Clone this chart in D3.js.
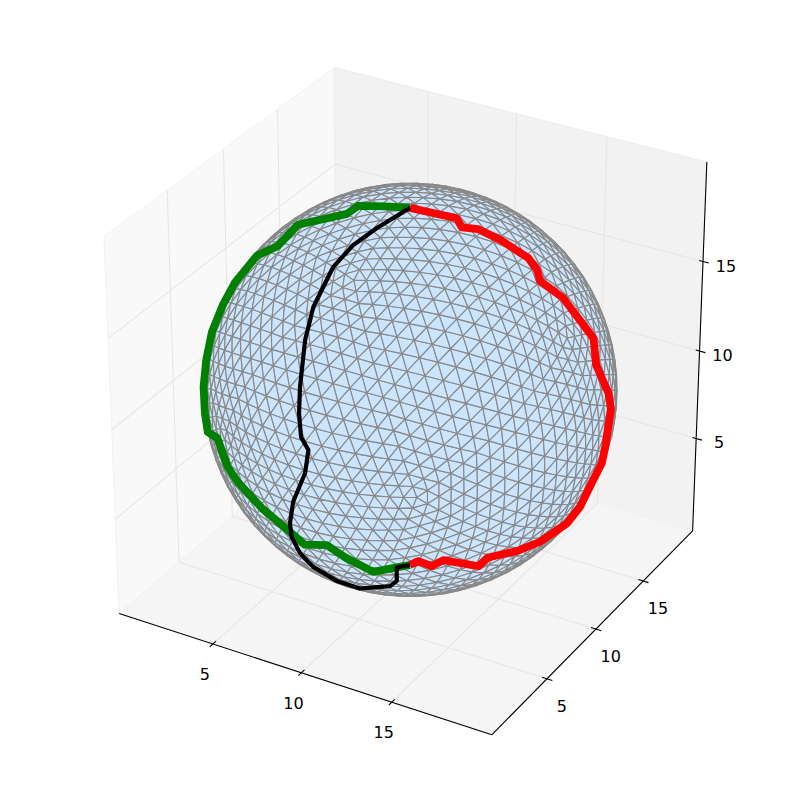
<!DOCTYPE html>
<html>
<head>
<meta charset="utf-8">
<script src="https://cdn.jsdelivr.net/npm/d3@7"></script>
<style>html,body{margin:0;padding:0;background:#fff}svg{display:block}</style>
</head>
<body>
<svg id="chart" width="800" height="800"></svg>
<script>
// ---- data (axis units) ----
const axisLimits = [-0.4167, 20.4167];
const xTicks = [5, 10, 15];
const yTicks = [5, 10, 15];
const zTicks = [5, 10, 15];
const sphereCenter = [10, 10, 10];
const sphereRadius = 10;

const greenPath = [
 [10.05,9.88,20.0],[8.88,9.54,19.93],[7.49,9.39,19.66],[7.33,8.62,19.54],[4.70,8.45,18.34],
 [4.42,7.07,17.76],[2.97,7.47,16.65],[2.09,6.83,15.24],[1.79,6.19,14.25],[1.33,5.87,12.78],
 [1.32,5.31,11.48],[1.58,4.62,10.42],[1.94,4.12,9.32],[2.30,3.78,8.53],[3.99,2.01,9.60],
 [4.81,1.59,8.45],[5.58,1.25,8.03],[7.20,0.78,7.32],[8.79,0.71,6.52],[9.51,0.86,5.96],
 [10.82,0.69,6.44],[11.60,1.06,5.81],[12.70,1.82,4.92],[13.89,1.98,5.46],[14.49,2.19,5.67]
];
const redPath = [
 [10.05,9.88,20.0],[12.23,10.51,19.73],[12.79,10.02,19.61],[13.35,10.60,19.40],[14.36,10.91,18.96],
 [15.66,11.33,18.14],[16.23,11.16,17.74],[16.62,10.73,17.46],[17.51,11.43,16.44],[18.78,12.17,14.27],
 [19.32,11.46,13.32],[19.64,12.20,11.49],[19.70,12.38,10.53],[19.77,11.74,8.78],[19.59,11.79,7.81],
 [19.57,10.88,7.24],[18.99,10.78,5.70],[18.74,9.92,5.14],[18.47,7.72,5.21],[18.01,6.25,5.34],
 [17.27,4.76,5.56],[16.81,4.66,4.98],[15.85,2.98,5.94],[15.32,2.81,5.53],[14.90,2.27,5.97],[14.49,2.19,5.67]
];
const blackPath = [
 [10.05,9.88,20.0],[9.47,7.75,19.73],[8.96,6.47,19.30],[8.63,5.18,18.65],[8.61,3.39,17.37],
 [8.83,2.25,16.21],[9.25,1.06,14.42],[9.47,0.58,13.31],[9.76,0.26,12.25],[10.21,0.16,11.75],
 [10.10,0.02,10.54],[9.37,0.10,8.70],[8.95,0.46,7.20],[8.80,0.83,6.19],[8.88,1.43,4.98],
 [9.22,2.07,3.96],[10.06,2.92,2.94],[11.06,3.34,2.62],[12.97,2.92,3.60],[13.50,2.65,4.20],
 [13.89,1.98,5.46],[14.49,2.19,5.67]
];

// ---- view (elevation 30, azimuth -60, camera distance 10) ----
const elev = 30 * Math.PI / 180, azim = -60 * Math.PI / 180, camDist = 10;
const n = [Math.cos(elev)*Math.cos(azim), Math.cos(elev)*Math.sin(azim), Math.sin(elev)];
const uLen = Math.hypot(n[0], n[1]);
const u = [-n[1]/uLen, n[0]/uLen, 0];
const v = [n[1]*u[2]-n[2]*u[1], n[2]*u[0]-n[0]*u[2], n[0]*u[1]-n[1]*u[0]];
const dot = (a,b) => a[0]*b[0]+a[1]*b[1]+a[2]*b[2];

const toBox = d3.scaleLinear().domain(axisLimits).range([-0.5, 0.5]);
const screenX = d3.scaleLinear().domain([0, 0.1]).range([410.3, 410.3 + 430.2]);
const screenY = d3.scaleLinear().domain([0, 0.1]).range([389.8, 389.8 - 430.2]);

function project(p) {
  const q = [toBox(p[0]), toBox(p[1]), toBox(p[2])];
  const w = camDist - dot(n, q);
  return [screenX(dot(u, q)/w), screenY(dot(v, q)/w)];
}
const path3d = d3.line().x(d => project(d)[0]).y(d => project(d)[1]);

const svg = d3.select("#chart");
const [lo, hi] = axisLimits;

// ---- panes ----
const panes = [
  {c:"#f9f9f9", pts:[[lo,lo,lo],[lo,hi,lo],[lo,hi,hi],[lo,lo,hi]]},
  {c:"#f2f2f2", pts:[[lo,hi,lo],[hi,hi,lo],[hi,hi,hi],[lo,hi,hi]]},
  {c:"#f5f5f5", pts:[[lo,lo,lo],[hi,lo,lo],[hi,hi,lo],[lo,hi,lo]]}
];
svg.append("g").selectAll("path").data(panes).join("path")
  .attr("d", d => path3d(d.pts) + "Z")
  .attr("fill", d => d.c)
  .attr("stroke", d => d.c === "#f2f2f2" ? "#ececec" : "#f1f1f1")
  .attr("stroke-width", 1);

// ---- grid ----
const gridLines = [];
xTicks.forEach(t => gridLines.push([[t,lo,lo],[t,hi,lo],[t,hi,hi]]));
yTicks.forEach(t => gridLines.push([[lo,t,hi],[lo,t,lo],[hi,t,lo]]));
zTicks.forEach(t => gridLines.push([[lo,lo,t],[lo,hi,t],[hi,hi,t]]));
svg.append("g").selectAll("path").data(gridLines).join("path")
  .attr("d", path3d).attr("fill","none").attr("stroke","#e6e6e6").attr("stroke-width",1.1);

// ---- axes ----
const axisLines = [
  [[lo,lo,lo],[hi,lo,lo]],
  [[hi,lo,lo],[hi,hi,lo]],
  [[hi,hi,lo],[hi,hi,hi]]
];
svg.append("g").selectAll("path").data(axisLines).join("path")
  .attr("d", path3d).attr("fill","none").attr("stroke","#000").attr("stroke-width",1.1);

const tickMarks = [];
xTicks.forEach(t => tickMarks.push({seg:[[t,lo+0.28,lo],[t,lo-0.28,lo]], t, base:[t,lo,lo], dx:-8, dy:30.5}));
yTicks.forEach(t => tickMarks.push({seg:[[hi-0.27,t,lo],[hi+0.29,t,lo]], t, base:[hi,t,lo], dx:14.8, dy:27.5}));
zTicks.forEach(t => tickMarks.push({seg:[[hi-0.21,hi,t],[hi+0.32,hi,t]], t, base:[hi,hi,t], dx:23, dy:4.2}));
const ticksG = svg.append("g");
ticksG.selectAll("path").data(tickMarks).join("path")
  .attr("d", d => path3d(d.seg)).attr("fill","none").attr("stroke","#000").attr("stroke-width",1.1);
ticksG.selectAll("text").data(tickMarks).join("text")
  .attr("x", d => project(d.base)[0] + d.dx)
  .attr("y", d => project(d.base)[1] + d.dy + 5.8)
  .attr("text-anchor","middle")
  .attr("font-family","'DejaVu Sans'").attr("font-size",16).attr("fill","#000")
  .text(d => d.t);

// ---- triangulated sphere surface ----
function geodesicTriangles(freq) {
  const t = (1 + Math.sqrt(5)) / 2;
  const vs = [[-1,t,0],[1,t,0],[-1,-t,0],[1,-t,0],[0,-1,t],[0,1,t],[0,-1,-t],[0,1,-t],[t,0,-1],[t,0,1],[-t,0,-1],[-t,0,1]];
  const fs = [[0,11,5],[0,5,1],[0,1,7],[0,7,10],[0,10,11],[1,5,9],[5,11,4],[11,10,2],[10,7,6],[7,1,8],
              [3,9,4],[3,4,2],[3,2,6],[3,6,8],[3,8,9],[4,9,5],[2,4,11],[6,2,10],[8,6,7],[9,8,1]];
  const unit = p => { const l = Math.hypot(p[0],p[1],p[2]); return [p[0]/l,p[1]/l,p[2]/l]; };
  const tris = [];
  fs.forEach(f => {
    const [a,b,c] = f.map(i => vs[i]);
    const pt = (i,j) => {
      const k = freq - i - j;
      return unit([0,1,2].map(d => (a[d]*k + b[d]*i + c[d]*j) / freq));
    };
    for (let i = 0; i < freq; i++) for (let j = 0; j < freq - i; j++) {
      tris.push([pt(i,j), pt(i+1,j), pt(i,j+1)]);
      if (i + j < freq - 1) tris.push([pt(i+1,j), pt(i+1,j+1), pt(i,j+1)]);
    }
  });
  return tris;
}
const toData = p => p.map((c,i) => sphereCenter[i] + sphereRadius * c);
const eye = [0,1,2].map(i => sphereCenter[i] + camDist * n[i] * (axisLimits[1]-axisLimits[0]));
const front = geodesicTriangles(15).filter(tri => {
  const m = [0,1,2].map(i => (tri[0][i]+tri[1][i]+tri[2][i])/3);
  const c = toData(m);
  return dot(m, [eye[0]-c[0], eye[1]-c[1], eye[2]-c[2]]) > 0;
});
svg.append("g").selectAll("path").data(front).join("path")
  .attr("d", d => path3d(d.map(toData)) + "Z")
  .attr("fill","#cce5ff").attr("stroke","#888888").attr("stroke-width",1.15).attr("stroke-linejoin","round");

// ---- boundary curves ----
const curves = [
  {pts:greenPath, c:"#008000", w:7.8},
  {pts:redPath,   c:"#ff0000", w:7.8},
  {pts:blackPath, c:"#000000", w:4.2}
];
svg.append("g").selectAll("path").data(curves).join("path")
  .attr("d", d => path3d(d.pts))
  .attr("fill","none").attr("stroke", d => d.c).attr("stroke-width", d => d.w)
  .attr("stroke-linejoin","round").attr("stroke-linecap","butt");
</script>
</body>
</html>
